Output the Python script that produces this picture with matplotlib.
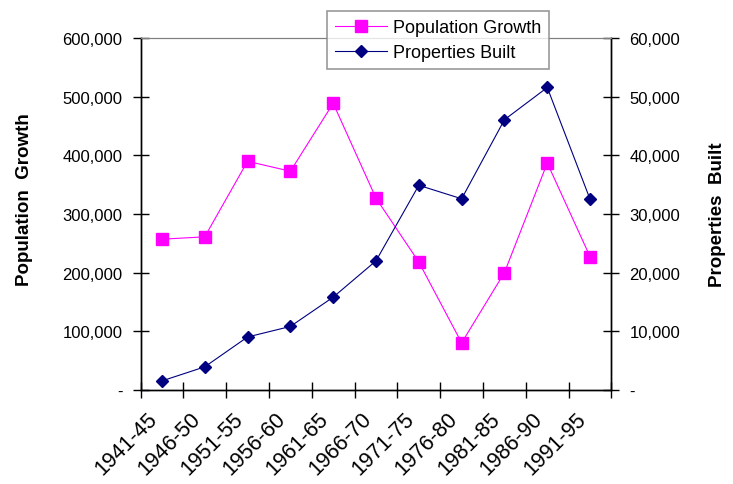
import matplotlib.pyplot as plt
import matplotlib.transforms as mtransforms
import numpy as np
from matplotlib.ticker import FuncFormatter

plt.rcParams["font.family"] = ["Liberation Sans", "DejaVu Sans"]

periods = ["1941-45", "1946-50", "1951-55", "1956-60", "1961-65", "1966-70",
           "1971-75", "1976-80", "1981-85", "1986-90", "1991-95"]
population_growth = [257000, 261000, 390000, 373000, 489000, 327000,
                     218000, 80000, 200000, 387000, 227000]
properties_built = [1500, 3900, 9000, 10800, 15800, 22000,
                    34900, 32600, 46100, 51600, 32500]


def accounting(v, pos):
    return "-" if v == 0 else f"{v:,.0f}"


W, H = 733, 485
fig = plt.figure(figsize=(W / 100, H / 100), dpi=100)
ax = fig.add_axes([140.5 / W, 1 - 390.7 / H, 471 / W, 351.4 / H])
ax2 = ax.twinx()

x = np.arange(len(periods)) + 0.5
l1, = ax.plot(x, population_growth, color="#ff00ff", lw=0.8, marker="s",
              ms=8.5, mec="#ff00ff", mfc="#ff00ff", zorder=3)
l2, = ax2.plot(x, properties_built, color="#000080", lw=0.8, marker="D",
               ms=6.5, mec="#000080", mfc="#000080", zorder=3)

ax.set_xlim(0, len(periods))
ax.set_ylim(0, 600000)
ax2.set_ylim(0, 60000)
ax.set_yticks(np.arange(0, 600001, 100000))
ax2.set_yticks(np.arange(0, 60001, 10000))
ax.yaxis.set_major_formatter(FuncFormatter(accounting))
ax2.yaxis.set_major_formatter(FuncFormatter(accounting))

# category boundaries get the tick marks, centres get the labels
ax.set_xticks(np.arange(len(periods) + 1))
ax.set_xticklabels([])
ax.set_xticks(x, minor=True)
ax.set_xticklabels(periods, minor=True, rotation=45, ha="right",
                   rotation_mode="anchor", fontsize=15.5)
ax.tick_params(axis="x", which="minor", length=0, pad=13)
ax.tick_params(axis="x", which="major", direction="inout", length=12, width=1)
shift = mtransforms.ScaledTranslation(-15 / 100, 0, fig.dpi_scale_trans)
for lab in ax.get_xticklabels(minor=True):
    lab.set_transform(lab.get_transform() + shift)

ax.tick_params(axis="y", direction="inout", length=12, width=1, labelsize=12, pad=7)
ax2.tick_params(axis="y", direction="inout", length=12, width=1, labelsize=12, pad=7)

for a in (ax, ax2):
    a.spines["top"].set_color("#808080")
    for s in ("left", "right", "bottom"):
        a.spines[s].set_color("black")
        a.spines[s].set_linewidth(1)

ax.set_ylabel("Population  Growth", fontsize=13.5, fontweight="bold")
ax2.set_ylabel("Properties  Built", fontsize=13.5, fontweight="bold", rotation=90)
ax.yaxis.set_label_coords(-0.228, 0.545)
ax2.yaxis.set_label_coords(1.207, 0.50)

leg = fig.legend([l1, l2], ["Population Growth", "Properties Built"],
                 loc="upper left", bbox_to_anchor=(327 / W, 1 - 12 / H),
                 fontsize=13, frameon=True, fancybox=False, shadow=False,
                 handlelength=2.9, borderpad=0.45, labelspacing=0.45,
                 handletextpad=0.3, borderaxespad=0)
leg.get_frame().set_edgecolor("#808080")
leg.get_frame().set_linewidth(1.2)

fig.savefig("out.png", dpi=100)
